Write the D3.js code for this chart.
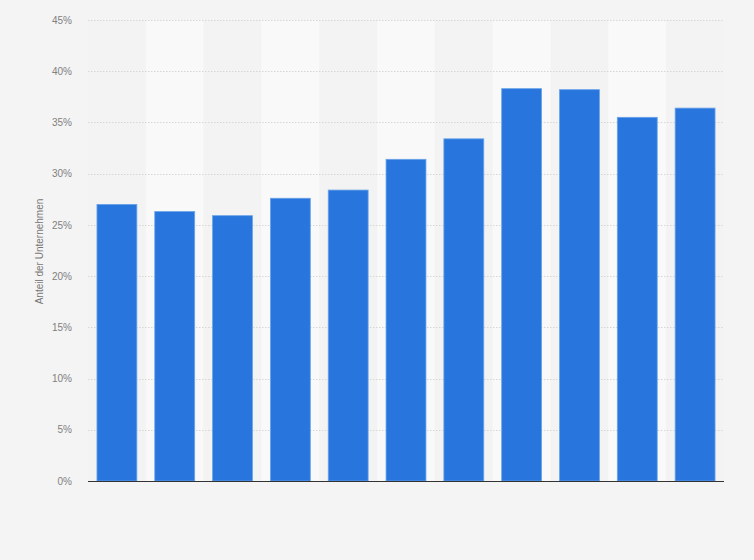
<!DOCTYPE html>
<html><head><meta charset="utf-8">
<script src="https://cdn.jsdelivr.net/npm/d3@7"></script>
<style>html,body{margin:0;padding:0;background:#f4f4f4;}svg{display:block;}</style>
</head><body>
<svg id="chart" width="754" height="560"></svg>
<script>
const categories = ["1","2","3","4","5","6","7","8","9","10","11"];
const values = [27.0, 26.3, 25.9, 27.6, 28.4, 31.4, 33.4, 38.3, 38.2, 35.5, 36.4];
const yTicks = [0,5,10,15,20,25,30,35,40,45];
const yLabel = "Anteil der Unternehmen";

const svg = d3.select("#chart");
const W = 754, H = 560;
const m = {left: 88, right: 30, top: 20, bottom: 79};
const iw = W - m.left - m.right, ih = H - m.top - m.bottom;

svg.append("rect").attr("width", W).attr("height", H).attr("fill", "#f4f4f4");

const x = d3.scaleBand().domain(categories).range([0, iw]).paddingInner(0.31).paddingOuter(0.155);
const xb = d3.scaleBand().domain(categories).range([0, iw]);
const y = d3.scaleLinear().domain([0, 45]).range([ih, 0]);

const g = svg.append("g").attr("transform", `translate(${m.left},${m.top})`);

// alternating bands
g.selectAll("rect.band").data(categories).join("rect")
  .attr("class", "band")
  .attr("x", d => xb(d)).attr("width", xb.bandwidth())
  .attr("y", 0).attr("height", ih)
  .attr("fill", (d, i) => i % 2 ? "#f9f9f9" : "#f3f3f3");

// grid
g.selectAll("line.grid").data(yTicks.filter(t => t > 0)).join("line")
  .attr("class", "grid")
  .attr("x1", 0).attr("x2", iw)
  .attr("y1", d => Math.round(y(d)) + 0.5).attr("y2", d => Math.round(y(d)) + 0.5)
  .attr("stroke", "#d6d6d6").attr("stroke-width", 1).attr("stroke-dasharray", "1.5,1.5");

// y axis labels
const yAxis = d3.axisLeft(y).tickValues(yTicks).tickFormat(d => d + "%").tickSize(0).tickPadding(16);
const ya = g.append("g").call(yAxis);
ya.select(".domain").remove();
ya.selectAll("text").attr("fill", "#808080").attr("font-family", "Liberation Sans, Arial, sans-serif").attr("font-size", "10px");

// bars
g.selectAll("rect.bar").data(values).join("rect")
  .attr("class", "bar")
  .attr("x", (d, i) => x(categories[i]))
  .attr("width", x.bandwidth())
  .attr("y", d => y(d))
  .attr("height", d => ih - y(d))
  .attr("fill", "#2876dd")
  .attr("stroke", "#6aa3e8").attr("stroke-width", 0.8);

// baseline
g.append("line").attr("x1", 0).attr("x2", iw).attr("y1", ih + 0.5).attr("y2", ih + 0.5)
  .attr("stroke", "#333").attr("stroke-width", 1.2);

// y label
svg.append("text")
  .attr("transform", `translate(43,${m.top + ih / 2})`)
  .attr("transform", `translate(43,${m.top + ih / 2 + 1}) rotate(-90)`)
  .attr("text-anchor", "middle")
  .attr("fill", "#777").attr("font-family", "Liberation Sans, Arial, sans-serif").attr("font-size", "10px")
  .text(yLabel);
</script>
</body></html>
